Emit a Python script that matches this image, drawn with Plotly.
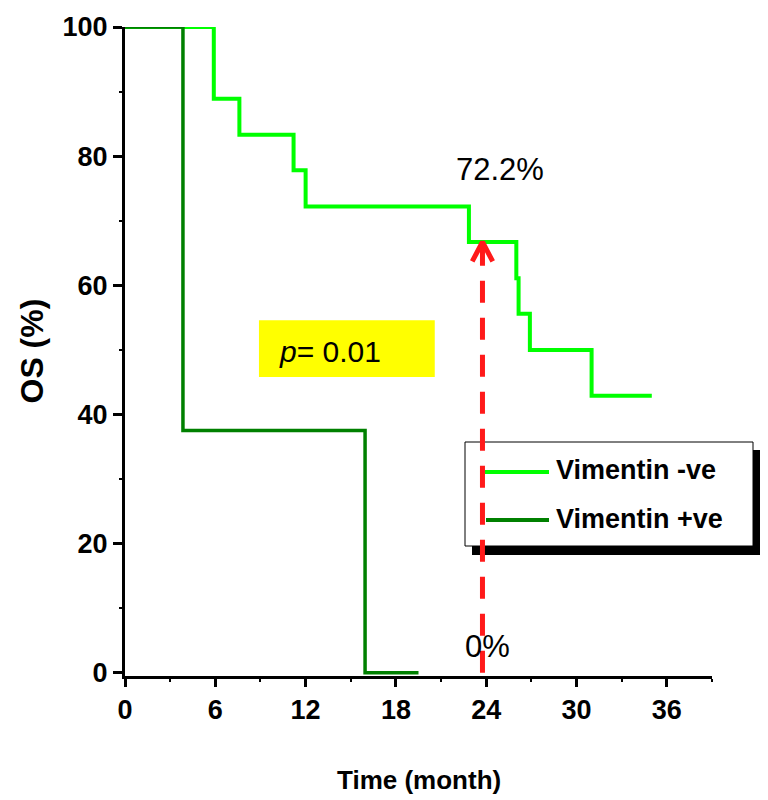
import plotly.graph_objects as go

# ---- data ----
neg_time = [0, 5.9, 7.6, 11.2, 12.0, 22.85, 26.0, 26.15, 26.9, 31.0, 35.0]
neg_surv = [100, 88.9, 83.3, 77.8, 72.2, 66.7, 61.1, 55.6, 50.0, 42.9, 42.9]
pos_time = [0, 3.85, 15.95, 19.5]
pos_surv = [100, 37.5, 0, 0]
series_names = ["Vimentin -ve", "Vimentin +ve"]
series_colors = ["#00FF00", "#008000"]
x_ticks = [0, 6, 12, 18, 24, 30, 36]
y_ticks = [0, 20, 40, 60, 80, 100]
arrow_x = 23.75
arrow_y = [0, 66.7]
label_high = "72.2%"
label_low = "0%"
p_text = "<i>p</i>= 0.01"

SANS = "Liberation Sans, Arial, sans-serif"

fig = go.Figure()
fig.add_trace(go.Scatter(x=neg_time, y=neg_surv, mode="lines", line_shape="hv",
                         line=dict(color=series_colors[0], width=4), name=series_names[0]))
fig.add_trace(go.Scatter(x=pos_time, y=pos_surv, mode="lines", line_shape="hv",
                         line=dict(color=series_colors[1], width=3.5), name=series_names[1]))
# red dashed arrow
fig.add_trace(go.Scatter(x=[arrow_x, arrow_x], y=arrow_y, mode="lines",
                         line=dict(color="#FF1A1A", width=5, dash="22px,15px"), cliponaxis=False))
fig.add_trace(go.Scatter(x=[arrow_x - 0.68, arrow_x, arrow_x + 0.68],
                         y=[arrow_y[1] - 3.0, arrow_y[1], arrow_y[1] - 3.0], mode="lines",
                         line=dict(color="#FF1A1A", width=5)))

shapes = []
# p-value yellow box
shapes.append(dict(type="rect", xref="x", yref="y", x0=8.9, x1=20.58, y0=45.8, y1=54.6,
                   fillcolor="#FFFF00", line=dict(width=0), layer="below"))
# legend shadow and box (paper coords via pixel conversion)
W, H = 768, 800
L, R, T, B = 125, 56, 27, 124
pw, ph = W - L - R, H - T - B
def px(x):
    return (x - L) / pw
def py(y):
    return (H - B - y) / ph
shapes.append(dict(type="rect", xref="paper", yref="paper", x0=px(472), x1=px(760), y0=py(555), y1=py(450),
                   fillcolor="black", line=dict(width=0), layer="below"))
shapes.append(dict(type="rect", xref="paper", yref="paper", x0=px(465), x1=px(753), y0=py(546), y1=py(442),
                   fillcolor="white", line=dict(color="black", width=1), layer="below"))
shapes.append(dict(type="line", xref="paper", yref="paper", x0=px(485), x1=px(549), y0=py(472), y1=py(472),
                   line=dict(color=series_colors[0], width=4), layer="below"))
shapes.append(dict(type="line", xref="paper", yref="paper", x0=px(486), x1=px(549), y0=py(520), y1=py(520),
                   line=dict(color=series_colors[1], width=4), layer="below"))

annotations = [
    dict(xref="paper", yref="paper", x=px(554), y=py(470), text=series_names[0], showarrow=False,
         xanchor="left", yanchor="middle", font=dict(family=SANS, size=27, color="black", weight="bold")),
    dict(xref="paper", yref="paper", x=px(554), y=py(519), text=series_names[1], showarrow=False,
         xanchor="left", yanchor="middle", font=dict(family=SANS, size=27, color="black", weight="bold")),
    dict(xref="x", yref="y", x=24.9, y=77.9, text=label_high, showarrow=False,
         font=dict(family=SANS, size=31, color="black")),
    dict(xref="x", yref="y", x=24.07, y=4.0, text=label_low, showarrow=False,
         font=dict(family=SANS, size=31, color="black")),
    dict(xref="x", yref="y", x=10.1, y=49.8, text=p_text, showarrow=False, xanchor="left",
         font=dict(family=SANS, size=30, color="black")),
    dict(xref="paper", yref="paper", x=0.5, y=0, yshift=-104, text="Time (month)", showarrow=False,
         yanchor="middle", font=dict(family=SANS, size=26, color="black", weight="bold")),
    dict(xref="paper", yref="paper", x=0, y=0.5, xshift=-94, text="OS (%)", showarrow=False,
         textangle=-90, xanchor="center", yanchor="middle",
         font=dict(family=SANS, size=32, color="black", weight="bold")),
]

fig.update_layout(
    width=W, height=H, margin=dict(l=L, r=R, t=T, b=B),
    paper_bgcolor="white", plot_bgcolor="white", showlegend=False,
    shapes=shapes, annotations=annotations,
    xaxis=dict(range=[0, 39], tickvals=x_ticks, ticktext=[str(v) for v in x_ticks],
               showgrid=False, zeroline=False, showline=True, linecolor="black", linewidth=3,
               ticks="outside", ticklen=8, tickwidth=2.5, tickcolor="black",
               minor=dict(dtick=3, ticks="outside", ticklen=3, tickwidth=2, tickcolor="black", showgrid=False),
               tickfont=dict(family=SANS, size=27, color="black", weight="bold")),
    yaxis=dict(range=[-0.5, 100], tickvals=y_ticks, ticktext=[str(v) for v in y_ticks],
               showgrid=False, zeroline=False, showline=True, linecolor="black", linewidth=3,
               ticks="outside", ticklen=9, tickwidth=2.5, tickcolor="black",
               minor=dict(dtick=10, ticks="outside", ticklen=3, tickwidth=2, tickcolor="black", showgrid=False),
               tickfont=dict(family=SANS, size=27, color="black", weight="bold")),
)

fig.write_html("out.html")
